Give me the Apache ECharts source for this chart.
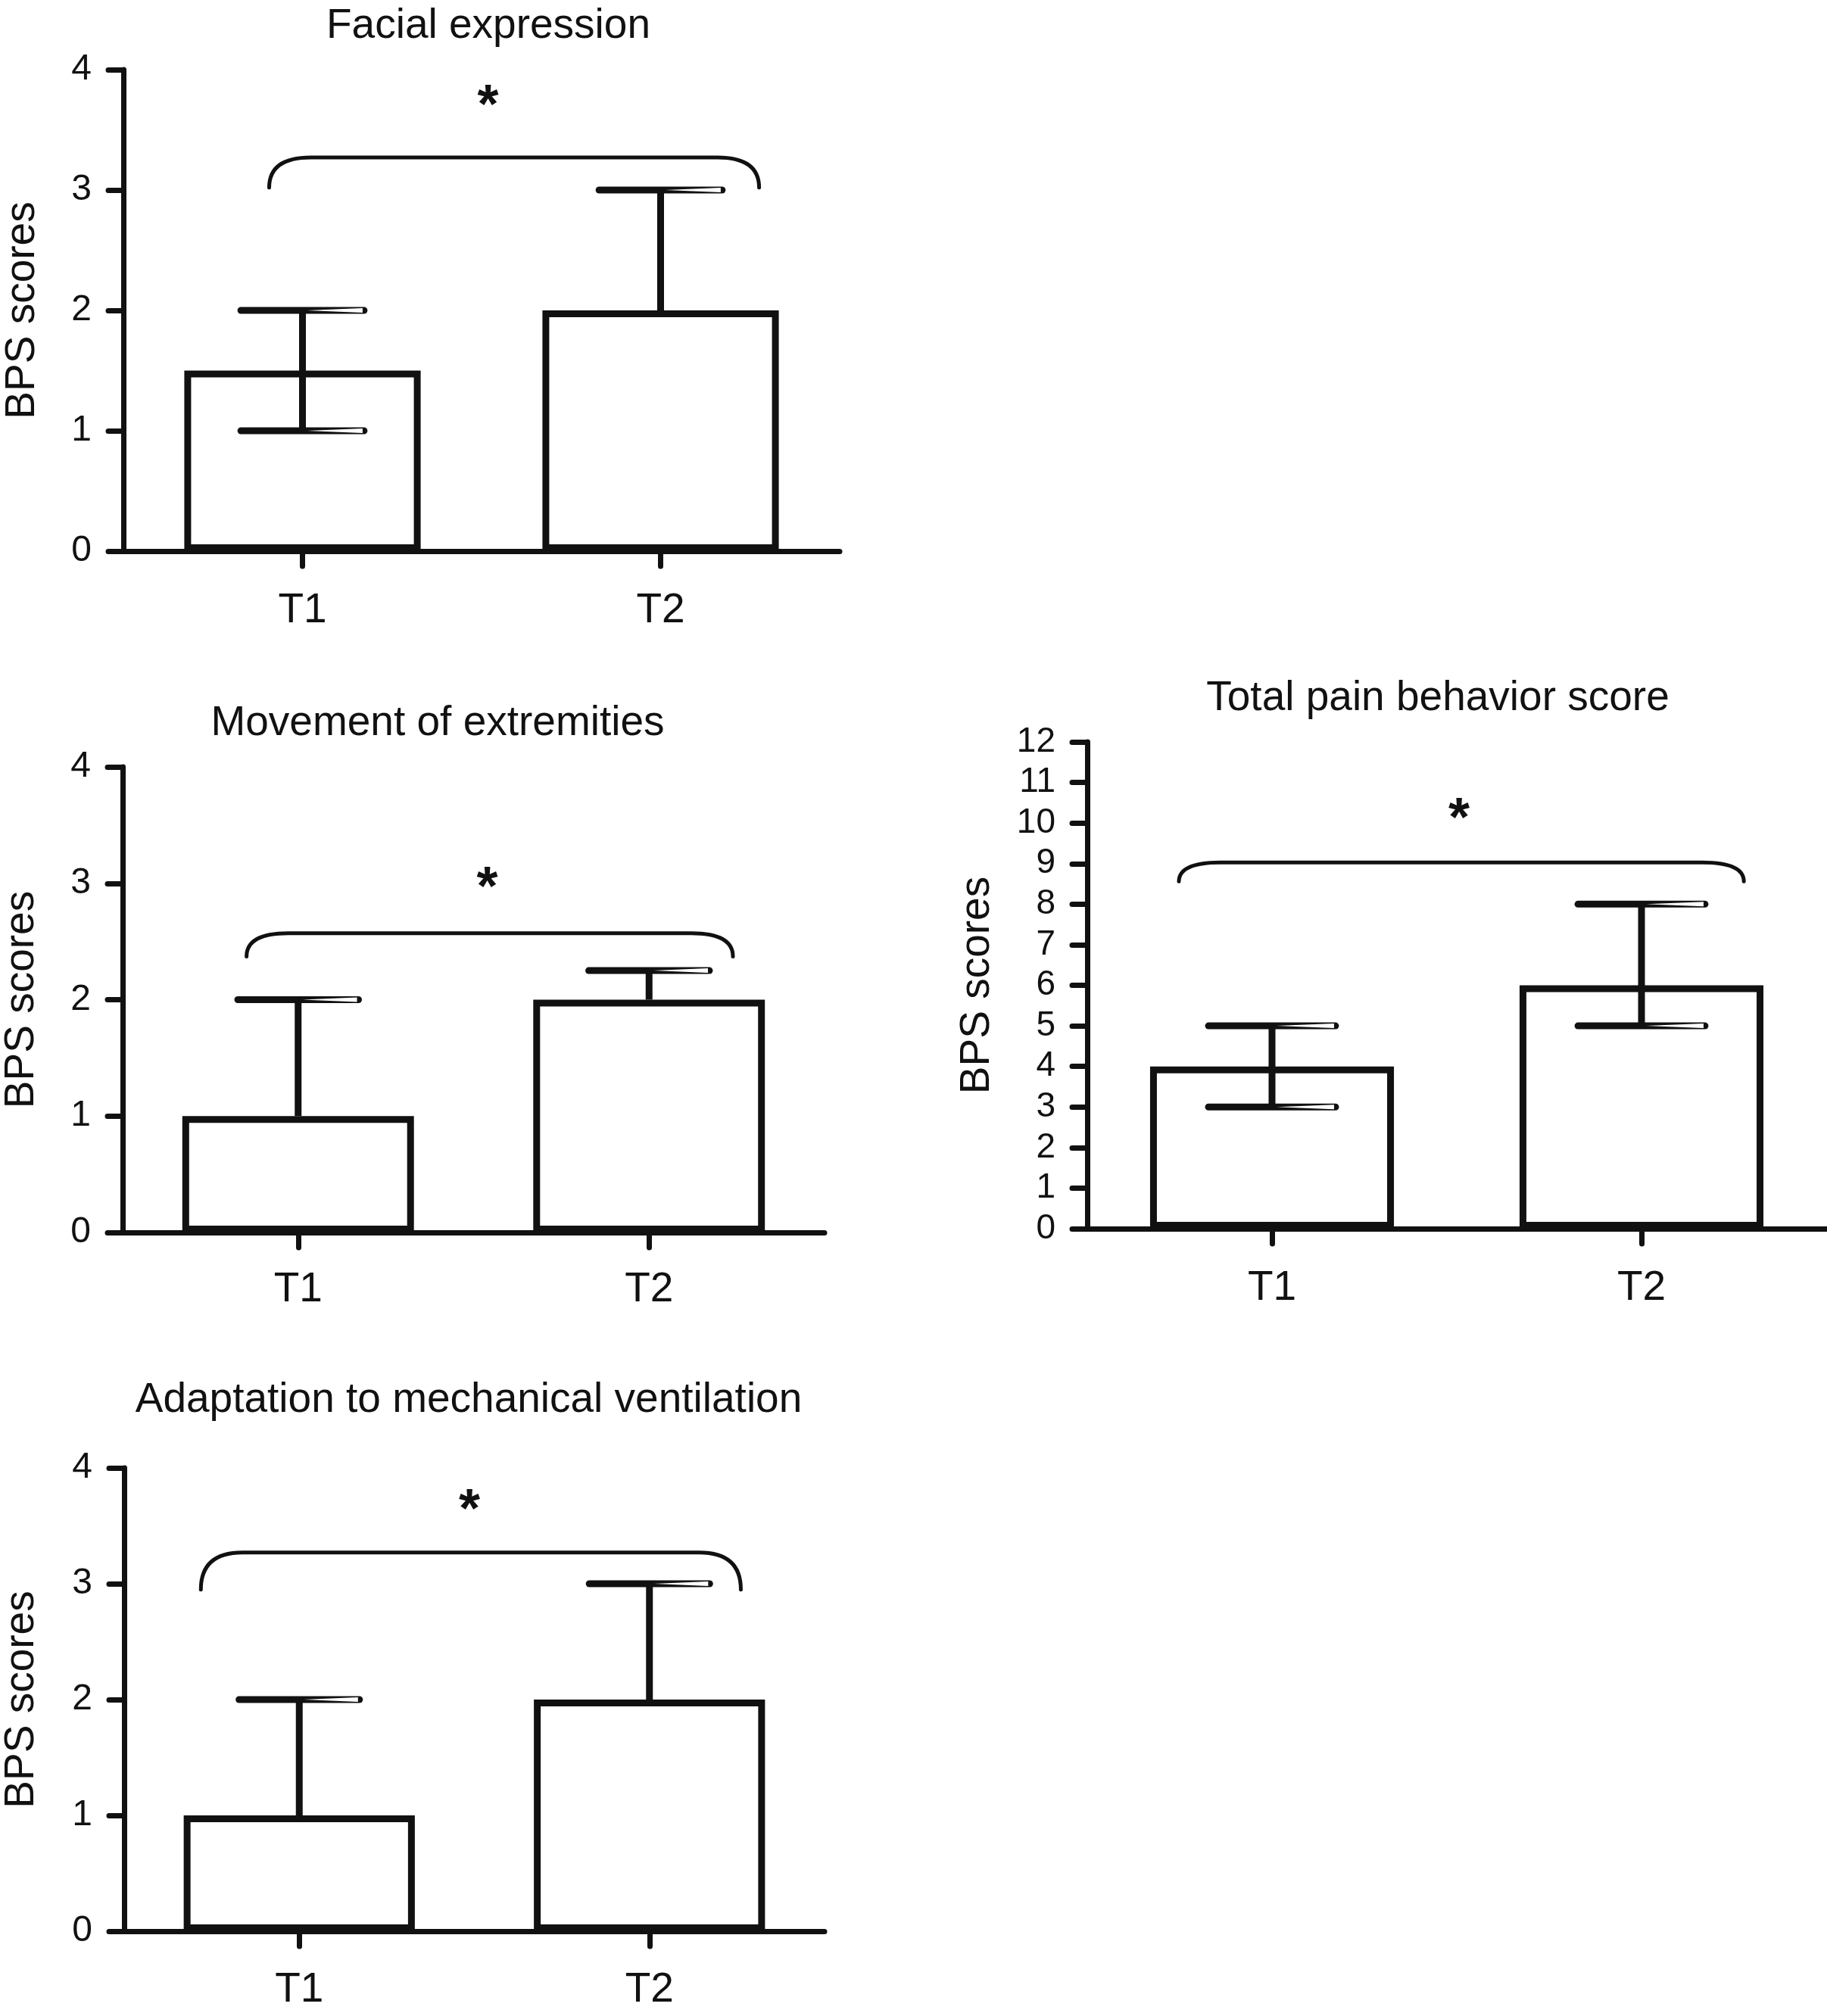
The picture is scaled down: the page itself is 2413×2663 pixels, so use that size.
<!DOCTYPE html>
<html>
<head>
<meta charset="utf-8">
<script src="https://cdn.jsdelivr.net/npm/echarts@6/dist/echarts.min.js"></script>
<style>
html,body{margin:0;padding:0;background:#fff;}
#chart{width:2413px;height:2663px;}
</style>
</head>
<body>
<div id="chart"></div>
<script>
// ---- data ----
const categories = ['T1', 'T2'];
const panelTitles = ['Facial expression', 'Movement of extremities', 'Adaptation to mechanical ventilation', 'Total pain behavior score'];
const yAxisName = 'BPS scores';
const panelMax = [4, 4, 4, 12];

const facialMedian = [1.5, 2];
const facialLow = [1, 2];
const facialHigh = [2, 3];

const movementMedian = [1, 2];
const movementLow = [1, 2];
const movementHigh = [2, 2.25];

const ventilationMedian = [1, 2];
const ventilationLow = [1, 2];
const ventilationHigh = [2, 3];

const totalMedian = [4, 6];
const totalLow = [3, 5];
const totalHigh = [5, 8];

// significance brackets (value-axis levels)
const bracketTop = [3.27, 2.57, 3.27, 9.03];
const bracketEnd = [3.02, 2.37, 2.95, 8.56];
const starLevel = [3.79, 3.05, 3.73, 10.37];
const starLabel = ['*', '*', '*', '*'];

const medians = [facialMedian, movementMedian, ventilationMedian, totalMedian];
const lows = [facialLow, movementLow, ventilationLow, totalLow];
const highs = [facialHigh, movementHigh, ventilationHigh, totalHigh];

// ---- layout (pixels / band fractions) ----
const grids = [
  {left: 163, top: 92, width: 946, height: 636},
  {left: 161, top: 1013, width: 928, height: 615},
  {left: 163, top: 1939, width: 926, height: 612},
  {left: 1436, top: 980, width: 976, height: 643}
];
const titlePos = [[645, 7], [578, 928], [619, 1822], [1899, 895]];
// bracket ends relative to T1 / T2 centres, in band widths; star x in category units
const bracketOffsets = [[-0.093, 0.275], [-0.147, 0.239], [-0.281, 0.261], [-0.252, 0.277]];
const starX = [0.518, 0.539, 0.486, 0.506];
const tickFont = [48, 48, 48, 46];
const nameGaps = [106, 106, 108, 118];
const catMargins = [51, 48, 50, 51];

const INK = '#111';
const FONT = '"Liberation Sans", Arial, sans-serif';
const STAR_SIZE = 72;

const chart = echarts.init(document.getElementById('chart'), null, {renderer: 'canvas', devicePixelRatio: 1});

const option = {
  backgroundColor: '#fff',
  animation: false,
  textStyle: {fontFamily: FONT, color: INK},
  title: panelTitles.map((t, i) => ({
    text: t, left: titlePos[i][0], top: titlePos[i][1], textAlign: 'center', padding: 0,
    textStyle: {fontFamily: FONT, fontSize: 55, fontWeight: 'normal', color: INK}
  })),
  grid: grids.map(g => Object.assign({containLabel: false}, g)),
  xAxis: grids.map((g, i) => ({
    type: 'category', gridIndex: i, data: categories,
    axisLine: {show: true, lineStyle: {color: INK, width: 7}},
    axisTick: {show: true, alignWithLabel: true, length: 20, lineStyle: {color: INK, width: 7, cap: 'round'}},
    axisLabel: {fontSize: 55, color: INK, margin: catMargins[i], fontFamily: FONT},
    splitLine: {show: false}
  })),
  yAxis: grids.map((g, i) => ({
    type: 'value', gridIndex: i, min: 0, max: panelMax[i], interval: 1,
    name: yAxisName, nameLocation: 'middle', nameGap: nameGaps[i], nameRotate: 90,
    nameTextStyle: {fontSize: 55, color: INK, fontFamily: FONT},
    axisLine: {show: true, lineStyle: {color: INK, width: 7}},
    axisTick: {show: true, length: 20, lineStyle: {color: INK, width: 7, cap: 'round'}},
    axisLabel: {fontSize: tickFont[i], color: INK, margin: 42, fontFamily: FONT},
    splitLine: {show: false}
  })),
  series: []
};

for (let i = 0; i < 4; i++) {
  option.series.push({
    type: 'bar', xAxisIndex: i, yAxisIndex: i, data: medians[i],
    barWidth: '66%', z: 2,
    itemStyle: {color: '#fff', borderColor: INK, borderWidth: 9}
  });
  option.series.push({
    type: 'custom', xAxisIndex: i, yAxisIndex: i, z: 5,
    data: categories.map((c, k) => [k, medians[i][k], lows[i][k], highs[i][k]]),
    encode: {x: 0, y: [1, 2, 3]},
    renderItem: function (params, api) {
      const k = api.value(0), v = api.value(1), lo = api.value(2), hi = api.value(3);
      const band = api.size([1, 0])[0];
      const half = band * 0.172;
      const pHi = api.coord([k, hi]);
      const pLo = api.coord([k, lo]);
      const cx = pHi[0];
      const children = [{
        type: 'line', shape: {x1: cx, y1: pLo[1], x2: cx, y2: pHi[1]},
        style: {stroke: INK, lineWidth: 9}
      }];
      const caps = [pHi[1]];
      if (lo < v) caps.push(pLo[1]);
      caps.forEach(y => {
        children.push({type: 'line', shape: {x1: cx - half, y1: y, x2: cx + half, y2: y},
          style: {stroke: INK, lineWidth: 9, lineCap: 'round'}});
        children.push({type: 'polygon', shape: {points: [[cx + 6, y], [cx + half - 2, y - 3], [cx + half - 2, y + 3]]},
          style: {fill: '#fff'}});
      });
      return {type: 'group', children: children};
    }
  });
  option.series.push({
    type: 'custom', xAxisIndex: i, yAxisIndex: i, z: 6,
    data: [[0, bracketTop[i], bracketEnd[i], starLevel[i]]],
    encode: {x: 0, y: [1, 2, 3]},
    renderItem: (function (pi) {
      return function (params, api) {
        const top = api.value(1), end = api.value(2), star = api.value(3);
        const band = api.size([1, 0])[0];
        const c0 = api.coord([0, top]);
        const yTop = c0[1];
        const yEnd = api.coord([0, end])[1];
        const yStar = api.coord([0, star])[1];
        const x1 = c0[0] + bracketOffsets[pi][0] * band;
        const x2 = c0[0] + band + bracketOffsets[pi][1] * band;
        const r = 55;
        const d = 'M' + x1 + ' ' + yEnd + ' Q' + x1 + ' ' + yTop + ' ' + (x1 + r) + ' ' + yTop +
          ' L' + (x2 - r) + ' ' + yTop + ' Q' + x2 + ' ' + yTop + ' ' + x2 + ' ' + yEnd;
        const sx = c0[0] + starX[pi] * band;
        return {type: 'group', children: [
          {type: 'path', shape: {pathData: d}, style: {stroke: INK, lineWidth: 5, fill: null, lineCap: 'round'}},
          {type: 'text', x: sx, y: yStar + 0.23 * STAR_SIZE, style: {text: starLabel[pi], fontSize: STAR_SIZE,
            fontWeight: 'bold', fontFamily: FONT, fill: INK, textAlign: 'center', textVerticalAlign: 'middle'}}
        ]};
      };
    })(i)
  });
}

chart.setOption(option);
</script>
</body>
</html>
